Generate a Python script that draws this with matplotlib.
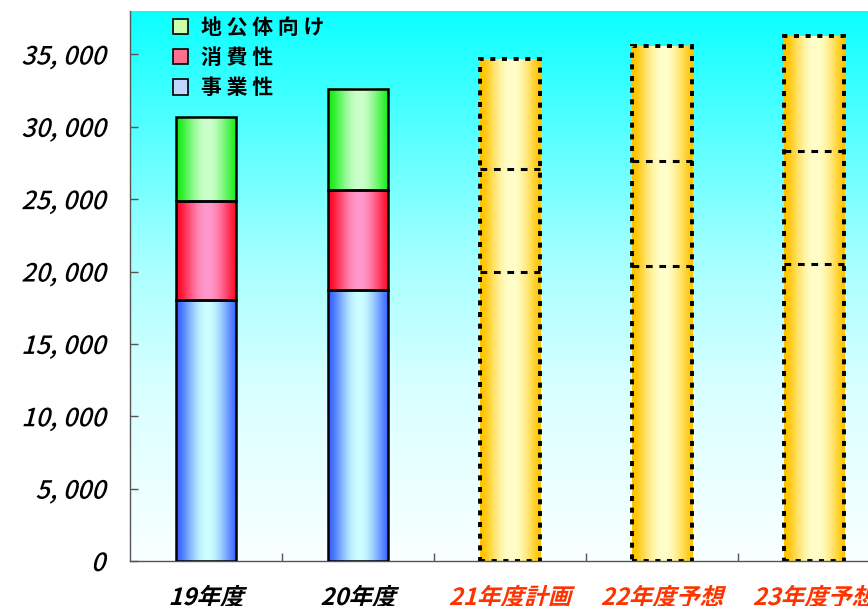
import numpy as np
import matplotlib
matplotlib.use("Agg")
import matplotlib.pyplot as plt
from matplotlib.patches import Patch
from matplotlib.patheffects import AbstractPathEffect
from matplotlib.transforms import Affine2D

plt.rcParams['font.family'] = ['Noto Sans CJK JP', 'DejaVu Sans']

# -----------------------------
# Data
# -----------------------------
years = ['19年度', '20年度', '21年度計画', '22年度予想', '23年度予想']
year_colors = ['black', 'black', '#ff3300', '#ff3300', '#ff3300']

# actual results (first two years)
jigyo = [18000, 18700]
shohi = [6900, 6900]
chikotai = [5800, 7000]

# plan / forecast years: same three parts, drawn as one outlined column
plan_jigyo = [19950, 20350, 20550]
plan_shohi = [7100, 7300, 7750]
plan_chikotai = [7600, 7900, 7950]

yticks = [0, 5000, 10000, 15000, 20000, 25000, 30000, 35000]
ytick_labels = ['0', '5, 000', '10, 000', '15, 000', '20, 000', '25, 000', '30, 000', '35, 000']

series_names = ['地 公 体 向 け', '消 費 性', '事 業 性']


# slanted text (fake italic for fonts without an italic face)
class Slant(AbstractPathEffect):
    def __init__(self, angle=15):
        super().__init__()
        self._skew = Affine2D().skew_deg(angle, 0)

    def draw_path(self, renderer, gc, tpath, affine, rgbFace=None):
        renderer.draw_path(gc, tpath, self._skew + affine, rgbFace)


def hex2rgb(h):
    h = h.lstrip('#')
    return np.array([int(h[i:i + 2], 16) for i in (0, 2, 4)]) / 255.0


def cylinder(edge, center, n=96):
    u = np.linspace(0, 1, n)
    t = np.clip(np.sin(np.pi * (u - 0.03) / 0.97), 0, 1) ** 1.3
    e, c = hex2rgb(edge), hex2rgb(center)
    return (e + (c - e) * t[:, None])[None, :, :]


BLUE = cylinder('#3a66ff', '#ccffff')
RED = cylinder('#ff0a28', '#ff99cc')
GREEN = cylinder('#18ee18', '#ccffcc')
GOLD = cylinder('#ffc400', '#ffffcc')

fig = plt.figure(figsize=(8.68, 6.06), dpi=100)
ax = fig.add_axes([130 / 868, 45 / 606, 760 / 868, 550 / 606])

YMAX = 38000
x = np.arange(len(years))
w = 0.4

# background: cyan fading to white
frac = np.linspace(0, 1, 256)
red_ch = np.interp(frac, [0, 0.45, 0.67, 1.0], [12, 165, 214, 250]) / 255.0
bg = np.stack([red_ch, np.ones_like(frac), np.ones_like(frac)], axis=1)[:, None, :]
ax.imshow(bg, extent=(-0.5, 4.5, 0, YMAX), origin='upper', aspect='auto',
          interpolation='bilinear', zorder=0)

# actual stacked bars
for i in range(len(jigyo)):
    parts = [(jigyo[i], BLUE), (shohi[i], RED), (chikotai[i], GREEN)]
    base = 0
    for h, grad in parts:
        ax.imshow(grad, extent=(x[i] - w / 2, x[i] + w / 2, base, base + h),
                  aspect='auto', interpolation='bilinear', zorder=2)
        ax.bar(x[i], h, bottom=base, width=w, fill=False,
               edgecolor='black', linewidth=1.8, zorder=3)
        base += h

# plan / forecast columns
dash = (0, (1.3, 1.7))
for j in range(len(plan_jigyo)):
    i = j + 2
    total = plan_jigyo[j] + plan_shohi[j] + plan_chikotai[j]
    ax.imshow(GOLD, extent=(x[i] - w / 2, x[i] + w / 2, 0, total),
              aspect='auto', interpolation='bilinear', zorder=2)
    ax.bar(x[i], total, width=w, fill=False, edgecolor='black',
           linewidth=2.8, linestyle=dash, zorder=3)
    for level in (plan_jigyo[j], plan_jigyo[j] + plan_shohi[j]):
        ax.hlines(level, x[i] - w / 2, x[i] + w / 2, colors='black',
                  linewidth=2.2, linestyles=(0, (2.2, 2.2)), zorder=3)

ax.set_xlim(-0.5, 4.5)
ax.set_ylim(0, YMAX)

# axes
for s in ('top', 'right'):
    ax.spines[s].set_visible(False)
for s in ('left', 'bottom'):
    ax.spines[s].set_color('#555555')
    ax.spines[s].set_linewidth(1.0)

ax.set_yticks(yticks)
ax.set_yticklabels(ytick_labels)
ax.tick_params(axis='y', direction='in', length=6, width=1.0, color='#555555',
               pad=18, labelsize=18)
for lab in ax.get_yticklabels():
    lab.set_fontweight('medium')
    lab.set_path_effects([Slant()])

ax.set_xticks(x)
ax.set_xticklabels(years)
ax.set_xticks(np.arange(0.5, len(years) - 0.5, 1.0), minor=True)
ax.tick_params(axis='x', which='major', length=0, pad=18, labelsize=17)
ax.tick_params(axis='x', which='minor', direction='in', length=6, width=1.0,
               color='#555555')
for lab, c in zip(ax.get_xticklabels(), year_colors):
    lab.set_color(c)
    lab.set_fontweight('bold')
    lab.set_path_effects([Slant()])

# legend
handles = [
    Patch(facecolor='#ccffaa', edgecolor='black', linewidth=1.2),
    Patch(facecolor='#ff7090', edgecolor='black', linewidth=1.2),
    Patch(facecolor='#c0d8ff', edgecolor='black', linewidth=1.2),
]
ax.legend(handles, series_names, loc='upper left', bbox_to_anchor=(0.045, 1.005),
          frameon=False, prop={'size': 15, 'weight': 'bold'},
          handlelength=0.75, handleheight=0.75, handletextpad=0.6,
          labelspacing=0.45, borderaxespad=0.0)

fig.savefig('out.png', dpi=100)
